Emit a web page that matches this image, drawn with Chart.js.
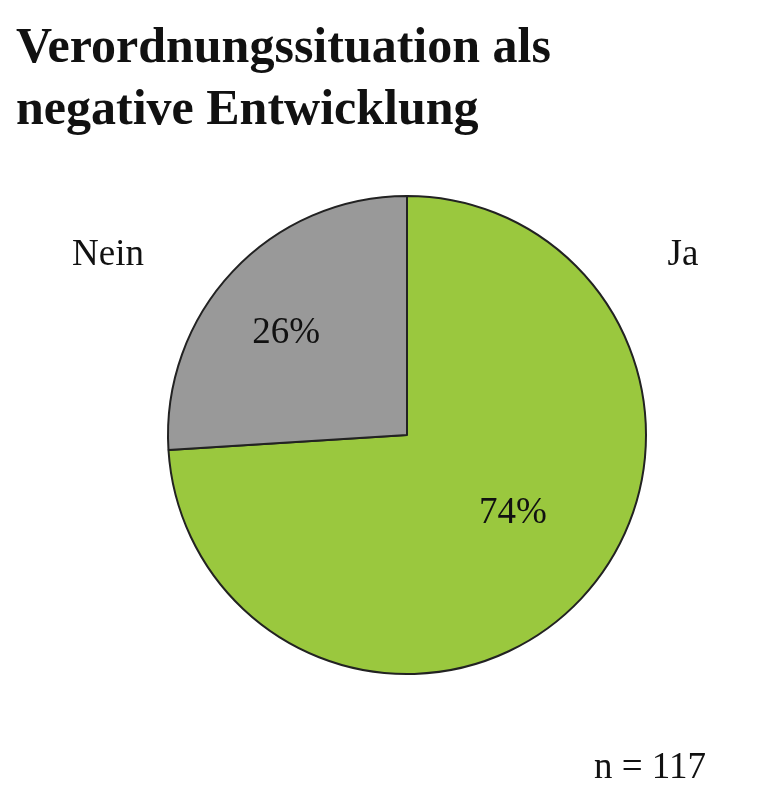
<!DOCTYPE html>
<html><head><meta charset="utf-8">
<script src="https://cdn.jsdelivr.net/npm/chart.js@4"></script>
<style>
html,body{margin:0;padding:0;background:#fff;}
#wrap{position:relative;width:762px;height:800px;}
#title{position:absolute;left:16px;top:14px;font-family:"Liberation Serif","DejaVu Serif",serif;font-weight:bold;font-size:50px;line-height:62px;color:#111;}
#c{position:absolute;left:0;top:0;}
</style></head><body>
<div id="wrap">
<canvas id="c" width="762" height="800"></canvas>
<div id="title">Verordnungssituation als<br>negative Entwicklung</div>
</div>
<script>
const categories = ["Ja", "Nein"];
const values = [74, 26];
const colors = ["#9ac83e", "#999999"];
const note = "n = 117";

const textPlugin = {
  id: 'txt',
  afterDraw(chart) {
    const ctx = chart.ctx;
    const meta = chart.getDatasetMeta(0);
    ctx.save();
    ctx.fillStyle = '#111';
    ctx.font = '37px "Liberation Serif", "DejaVu Serif", serif';
    ctx.textAlign = 'center';
    ctx.textBaseline = 'middle';
    meta.data.forEach((arc, i) => {
      const mid = (arc.startAngle + arc.endAngle) / 2;
      const r = arc.outerRadius * 0.55;
      const dx = i === 1 ? -25 : 10, dy = i === 1 ? -12 : -12;
      ctx.fillText(values[i] + '%', arc.x + Math.cos(mid) * r + dx, arc.y + Math.sin(mid) * r + dy);
    });
    const a = meta.data[0];
    ctx.fillText(categories[1], a.x - 299, a.y - 180);
    ctx.fillText(categories[0], a.x + 276, a.y - 180);
    ctx.fillText(note, a.x + 243, a.y + 333);
    ctx.restore();
  }
};

new Chart(document.getElementById('c'), {
  type: 'pie',
  data: { labels: categories, datasets: [{ data: values, backgroundColor: colors, borderColor: '#222', borderWidth: 2 }] },
  options: {
    responsive: false, animation: false,
    layout: { padding: { left: 167, right: 115, top: 195, bottom: 125 } },
    plugins: { legend: { display: false }, tooltip: { enabled: false } }
  },
  plugins: [textPlugin]
});
</script>
</body></html>
